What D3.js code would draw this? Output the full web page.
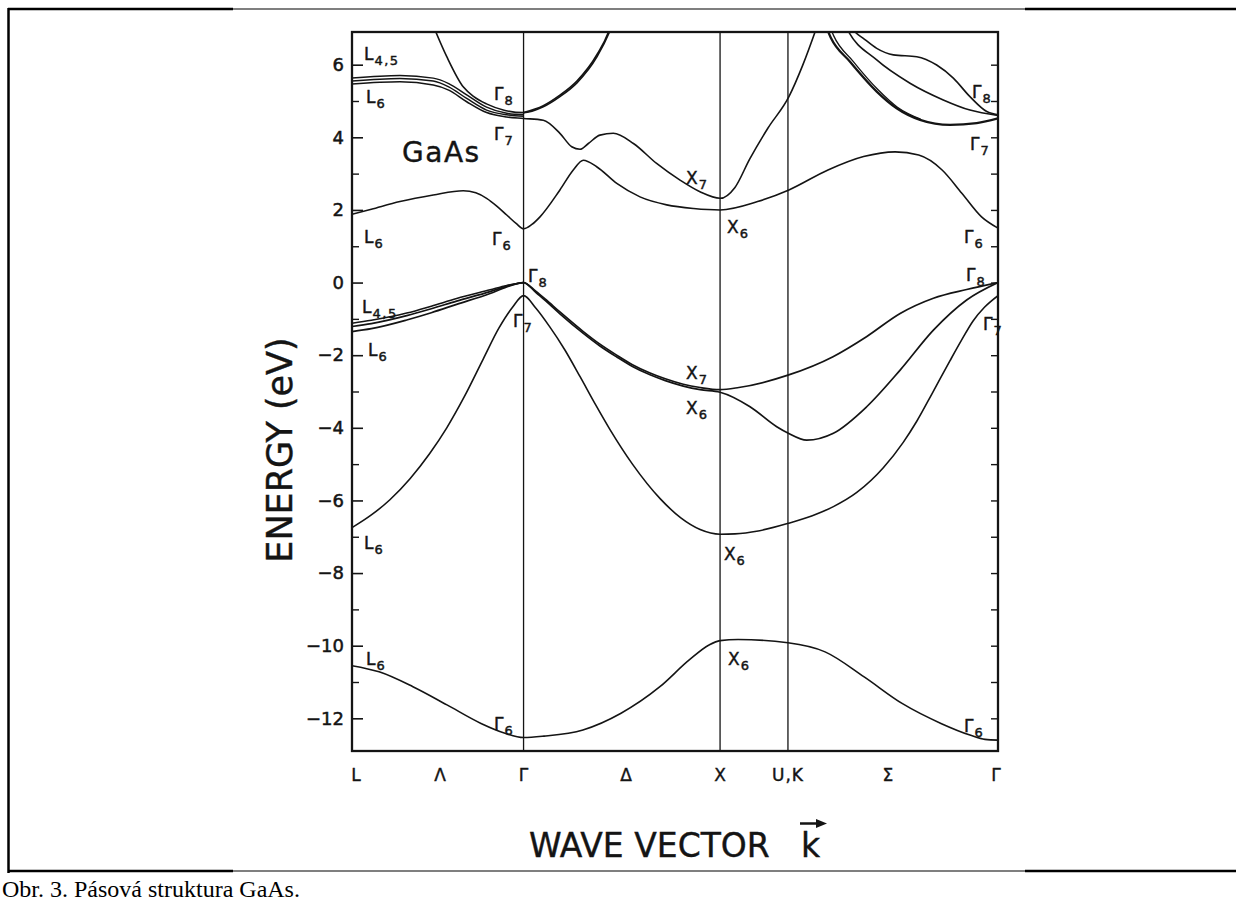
<!DOCTYPE html>
<html><head><meta charset="utf-8">
<script src="https://cdn.jsdelivr.net/npm/d3@7"></script>
<style>
html,body{margin:0;padding:0;background:#fff;}
svg{display:block;}
</style>
</head><body>
<svg id="chart" width="1236" height="904"></svg>
<script>
// ---------- data ----------
// symmetry points along the k path (Γ–X distance = 1)
const symNames = ["L", "Γ", "X", "U,K", "Γ"];
const symK     = [0, 0.887, 1.903, 2.254, 3.34];
// direction labels between symmetry points
const dirNames = ["Λ", "Δ", "Σ"];
const dirK     = [0.455, 1.417, 2.771];
// energy axis ticks (eV)
const majorTicks = [-12, -10, -8, -6, -4, -2, 0, 2, 4, 6];
const minorTicks = [-11, -9, -7, -5, -3, -1, 1, 3, 5];
const rightTicks = [-12, -11, -10, -9, -8, -7, -6, -5, -4, -3, -2, -1, 0, 1, 2, 3, 4, 5, 6];

// bands: [k, E(eV)]
const bandV1 = [[0,-10.55],[0.14,-10.72],[0.315,-11.13],[0.491,-11.63],[0.667,-12.14],[0.791,-12.41],[0.887,-12.53],[0.993,-12.49],[1.194,-12.32],[1.391,-11.86],[1.592,-11.13],[1.742,-10.4],[1.846,-9.98],[1.903,-9.86],[1.996,-9.83],[2.254,-9.92],[2.446,-10.17],[2.648,-10.86],[2.844,-11.59],[3.045,-12.14],[3.195,-12.46],[3.273,-12.58],[3.34,-12.6]];
const bandV2 = [[0,-6.75],[0.1,-6.4],[0.196,-5.98],[0.3,-5.4],[0.4,-4.72],[0.49,-4.0],[0.58,-3.15],[0.679,-2.1],[0.76,-1.25],[0.83,-0.68],[0.887,-0.36],[0.95,-0.7],[1.02,-1.2],[1.1,-1.85],[1.18,-2.6],[1.26,-3.37],[1.334,-4.05],[1.45,-5.0],[1.593,-5.95],[1.7,-6.48],[1.8,-6.8],[1.903,-6.93],[1.98,-6.92],[2.1,-6.84],[2.256,-6.63],[2.38,-6.42],[2.489,-6.17],[2.61,-5.78],[2.747,-5.1],[2.85,-4.4],[2.92,-3.82],[3.0,-3.05],[3.092,-2.15],[3.15,-1.6],[3.212,-1.05],[3.27,-0.68],[3.34,-0.36]];
const bandV3 = [[0,-1.35],[0.1,-1.27],[0.283,-1.03],[0.41,-0.83],[0.541,-0.6],[0.714,-0.3],[0.8,-0.12],[0.887,0],[0.95,-0.27],[1.0,-0.5],[1.075,-0.86],[1.196,-1.4],[1.28,-1.74],[1.369,-2.05],[1.45,-2.31],[1.541,-2.54],[1.62,-2.7],[1.713,-2.85],[1.8,-2.95],[1.903,-3.02],[2.058,-3.42],[2.196,-3.97],[2.256,-4.15],[2.351,-4.34],[2.489,-4.15],[2.661,-3.42],[2.834,-2.41],[3.006,-1.31],[3.178,-0.48],[3.34,0]];
const bandV4 = [[0,-1.21],[0.1,-1.13],[0.283,-0.91],[0.41,-0.72],[0.541,-0.51],[0.714,-0.25],[0.8,-0.1],[0.887,0],[0.95,-0.24],[1.0,-0.46],[1.075,-0.81],[1.196,-1.35],[1.28,-1.69],[1.369,-2.0],[1.45,-2.26],[1.541,-2.49],[1.62,-2.65],[1.713,-2.8],[1.8,-2.89],[1.903,-2.95],[2.0,-2.89],[2.254,-2.55],[2.487,-2.04],[2.66,-1.49],[2.834,-0.85],[3.006,-0.43],[3.178,-0.19],[3.34,0]];
const bandV5 = [[0,-1.12],[0.1,-1.04],[0.283,-0.84],[0.41,-0.65],[0.541,-0.44],[0.714,-0.2],[0.8,-0.08],[0.887,0]];
const bandC1 = [[0,1.88],[0.1,2.02],[0.248,2.23],[0.42,2.41],[0.575,2.53],[0.64,2.47],[0.696,2.32],[0.75,2.1],[0.8,1.86],[0.85,1.62],[0.887,1.48],[0.93,1.6],[0.972,1.81],[1.075,2.55],[1.144,3.1],[1.196,3.37],[1.265,3.19],[1.369,2.73],[1.489,2.36],[1.627,2.14],[1.766,2.04],[1.903,2.0],[2.097,2.23],[2.259,2.55],[2.461,3.1],[2.645,3.47],[2.808,3.6],[2.93,3.51],[3.051,3.1],[3.153,2.46],[3.255,1.81],[3.34,1.5]];
const bandC2 = [[0,5.47],[0.248,5.53],[0.42,5.44],[0.5,5.3],[0.593,4.98],[0.696,4.68],[0.8,4.56],[0.887,4.52],[0.989,4.47],[1.075,4.11],[1.136,3.74],[1.179,3.67],[1.222,3.83],[1.282,4.06],[1.351,4.11],[1.455,3.83],[1.575,3.28],[1.696,2.82],[1.799,2.5],[1.903,2.32],[1.98,2.62],[2.056,3.4],[2.15,4.25],[2.259,5.12],[2.33,5.98],[2.394,6.9],[2.42,7.3]];
const bandC2a = [[0,5.63],[0.248,5.7],[0.42,5.63],[0.5,5.48],[0.593,5.17],[0.696,4.83],[0.8,4.66],[0.887,4.62]];
const bandC2b = [[0,5.55],[0.248,5.62],[0.42,5.55],[0.5,5.39],[0.593,5.07],[0.696,4.75],[0.8,4.62],[0.887,4.58]];
const bandC3 = [[0.41,7.2],[0.49,6.22],[0.575,5.39],[0.63,5.12],[0.695,4.92],[0.791,4.74],[0.887,4.68],[0.989,4.84],[1.075,5.12],[1.163,5.5],[1.267,6.22],[1.339,7.0],[1.36,7.3]];
const bandC3b = [[0.887,4.68],[0.989,4.87],[1.075,5.16],[1.163,5.55],[1.267,6.28],[1.333,7.0],[1.35,7.3]];
const bandC4 = [[2.44,7.2],[2.475,6.75],[2.575,6.08],[2.713,5.26],[2.816,4.8],[2.937,4.48],[3.092,4.34],[3.23,4.39],[3.34,4.52]];
const bandC4b = [[2.46,7.2],[2.49,6.8],[2.59,6.1],[2.72,5.31],[2.82,4.83],[2.94,4.5]];
const bandC5 = [[2.54,7.2],[2.558,7.0],[2.713,6.13],[2.885,5.49],[3.057,5.03],[3.195,4.75],[3.34,4.6]];
const bandC6 = [[2.56,7.2],[2.584,7.0],[2.65,6.7],[2.713,6.45],[2.799,6.27],[2.92,6.22],[3.023,5.99],[3.109,5.63],[3.195,5.12],[3.282,4.71],[3.34,4.62]];

// point labels: main symbol, subscript, anchor k, anchor E (left/baseline)
const pointLabels = [
  ["L","4,5",0.062,6.13],["L","6",0.072,4.94],["Γ","8",0.734,5.03],["Γ","7",0.734,3.93],
  ["L","6",0.062,1.09],["Γ","6",0.724,1.03],["Γ","8",0.91,0.02],["L","4,5",0.052,-0.84],
  ["L","6",0.083,-2.02],["Γ","7",0.832,-1.22],["X","7",1.727,-2.66],["X","6",1.727,-3.62],
  ["L","6",0.062,-7.34],["X","6",1.923,-7.64],["X","7",1.727,2.71],["X","6",1.939,1.36],
  ["Γ","8",3.206,5.08],["Γ","7",3.195,3.65],["Γ","6",3.164,1.09],["Γ","8",3.175,0.03],
  ["Γ","7",3.263,-1.31],["L","6",0.072,-10.53],["X","6",1.944,-10.53],["Γ","6",0.734,-12.32],
  ["Γ","6",3.164,-12.38]
];

// ---------- drawing ----------
const svg = d3.select("#chart");
const plot = {left: 352, right: 998, top: 32, bottom: 751};
const x = d3.scaleLinear().domain([0, 3.34]).range([plot.left, plot.right]);
const y = d3.scaleLinear().domain([-12.9, 6.9]).range([plot.bottom, plot.top]);
const ink = "#141414";
const labFont = "'DejaVu Sans', 'Liberation Sans', sans-serif";

// outer document frame
const frame = svg.append("g").attr("stroke", "#000");
frame.append("line").attr("x1", 8.5).attr("x2", 8.5).attr("y1", 8).attr("y2", 873).attr("stroke-width", 2.5);
[9, 871].forEach(yy => {
  frame.append("line").attr("x1", 8).attr("x2", 233).attr("y1", yy).attr("y2", yy).attr("stroke-width", 2.5);
  frame.append("line").attr("x1", 233).attr("x2", 1025).attr("y1", yy).attr("y2", yy).attr("stroke-width", 1.2);
  frame.append("line").attr("x1", 1025).attr("x2", 1236).attr("y1", yy).attr("y2", yy).attr("stroke-width", 2.5);
});

// caption
svg.append("text").attr("x", 2).attr("y", 897)
  .attr("font-family", "'Liberation Serif', 'Times New Roman', serif")
  .attr("font-size", 24).attr("fill", "#000")
  .text("Obr. 3. Pásová struktura GaAs.");

// clip
svg.append("defs").append("clipPath").attr("id", "clip")
  .append("rect").attr("x", plot.left).attr("y", plot.top)
  .attr("width", plot.right - plot.left).attr("height", plot.bottom - plot.top);

// vertical symmetry lines
svg.append("g").selectAll("line").data(symK.slice(1, 4)).join("line")
  .attr("x1", d => x(d)).attr("x2", d => x(d))
  .attr("y1", plot.top).attr("y2", plot.bottom)
  .attr("stroke", ink).attr("stroke-width", 1.3);

// bands
const line = d3.line().x(d => x(d[0])).y(d => y(d[1])).curve(d3.curveMonotoneX);
const bands = [
  [bandV1, 1.6], [bandV2, 1.6], [bandV3, 1.7], [bandV4, 1.7], [bandV5, 1.5],
  [bandC1, 1.6], [bandC2, 1.6], [bandC2a, 1.5], [bandC2b, 1.5],
  [bandC3, 1.6], [bandC3b, 1.7], [bandC4, 2.3], [bandC4b, 1.3], [bandC5, 1.6], [bandC6, 1.6]
];
const gb = svg.append("g").attr("clip-path", "url(#clip)");
bands.forEach(([b, w]) => {
  gb.append("path").attr("d", line(b)).attr("fill", "none")
    .attr("stroke", ink).attr("stroke-width", w).attr("stroke-linejoin", "round");
});

// plot frame
svg.append("rect").attr("x", plot.left).attr("y", plot.top)
  .attr("width", plot.right - plot.left).attr("height", plot.bottom - plot.top)
  .attr("fill", "none").attr("stroke", ink).attr("stroke-width", 2.3);

// left axis: major ticks with labels
const fmt = d3.format("d");
const axL = svg.append("g").attr("transform", `translate(${plot.left},0)`)
  .call(d3.axisLeft(y).tickValues(majorTicks).tickSize(-11).tickPadding(8).tickFormat(fmt));
axL.select(".domain").remove();
axL.selectAll(".tick line").attr("stroke", ink).attr("stroke-width", 1.6);
axL.selectAll(".tick text").attr("font-family", labFont).attr("font-size", 18)
  .attr("fill", ink).attr("stroke", ink).attr("stroke-width", 0.5);
const axLm = svg.append("g").attr("transform", `translate(${plot.left},0)`)
  .call(d3.axisLeft(y).tickValues(minorTicks).tickSize(-7).tickFormat(""));
axLm.select(".domain").remove();
axLm.selectAll(".tick line").attr("stroke", ink).attr("stroke-width", 1.4);
// right axis ticks
const axR = svg.append("g").attr("transform", `translate(${plot.right},0)`)
  .call(d3.axisRight(y).tickValues(rightTicks).tickSize(-7).tickFormat(""));
axR.select(".domain").remove();
axR.selectAll(".tick line").attr("stroke", ink).attr("stroke-width", 1.4);

// x symmetry labels
const xl = svg.append("g").attr("font-family", labFont).attr("font-size", 17)
  .attr("fill", ink).attr("stroke", ink).attr("stroke-width", 0.4).attr("text-anchor", "middle");
xl.selectAll("text.sym").data(symNames).join("text").attr("class", "sym")
  .attr("letter-spacing", d => d.length > 1 ? 1 : 0)
  .attr("x", (d, i) => x(symK[i]) + (i === 0 ? 4 : (i === 4 ? -2 : 0))).attr("y", 781).text(d => d);
xl.selectAll("text.dir").data(dirNames).join("text").attr("class", "dir")
  .attr("x", (d, i) => x(dirK[i])).attr("y", 781).text(d => d);

// axis titles
svg.append("text").attr("transform", `translate(292,450) rotate(-90)`)
  .attr("text-anchor", "middle").attr("font-family", labFont).attr("font-size", 35)
  .attr("fill", ink).attr("stroke", ink).attr("stroke-width", 0.4).text("ENERGY (eV)");
svg.append("text").attr("x", 529).attr("y", 857)
  .attr("font-family", labFont).attr("font-size", 33)
  .attr("fill", ink).attr("stroke", ink).attr("stroke-width", 0.4).text("WAVE VECTOR");
svg.append("text").attr("x", 801).attr("y", 857)
  .attr("font-family", labFont).attr("font-size", 33)
  .attr("fill", ink).attr("stroke", ink).attr("stroke-width", 0.4).text("k");
svg.append("line").attr("x1", 800).attr("x2", 822).attr("y1", 823.5).attr("y2", 823.5)
  .attr("stroke", ink).attr("stroke-width", 2.5);
svg.append("path").attr("d", "M816,819 L827,823.5 L816,828 Z").attr("fill", ink);

// GaAs label
svg.append("text").attr("x", x(0.259)).attr("y", y(3.32))
  .attr("font-family", labFont).attr("font-size", 28).attr("letter-spacing", 1.5)
  .attr("fill", ink).attr("stroke", ink).attr("stroke-width", 0.4).text("GaAs");

// point labels
const gl = svg.append("g").attr("font-family", labFont).attr("fill", ink)
  .attr("stroke", ink).attr("stroke-width", 0.45);
pointLabels.forEach(([m, s, k, e]) => {
  const t = gl.append("text").attr("x", x(k)).attr("y", y(e));
  t.append("tspan").attr("font-size", 17).text(m);
  t.append("tspan").attr("font-size", 13).attr("dy", 5).attr("dx", 1)
    .attr("letter-spacing", s.length > 1 ? 1.5 : 0).text(s);
});
</script>
</body></html>
